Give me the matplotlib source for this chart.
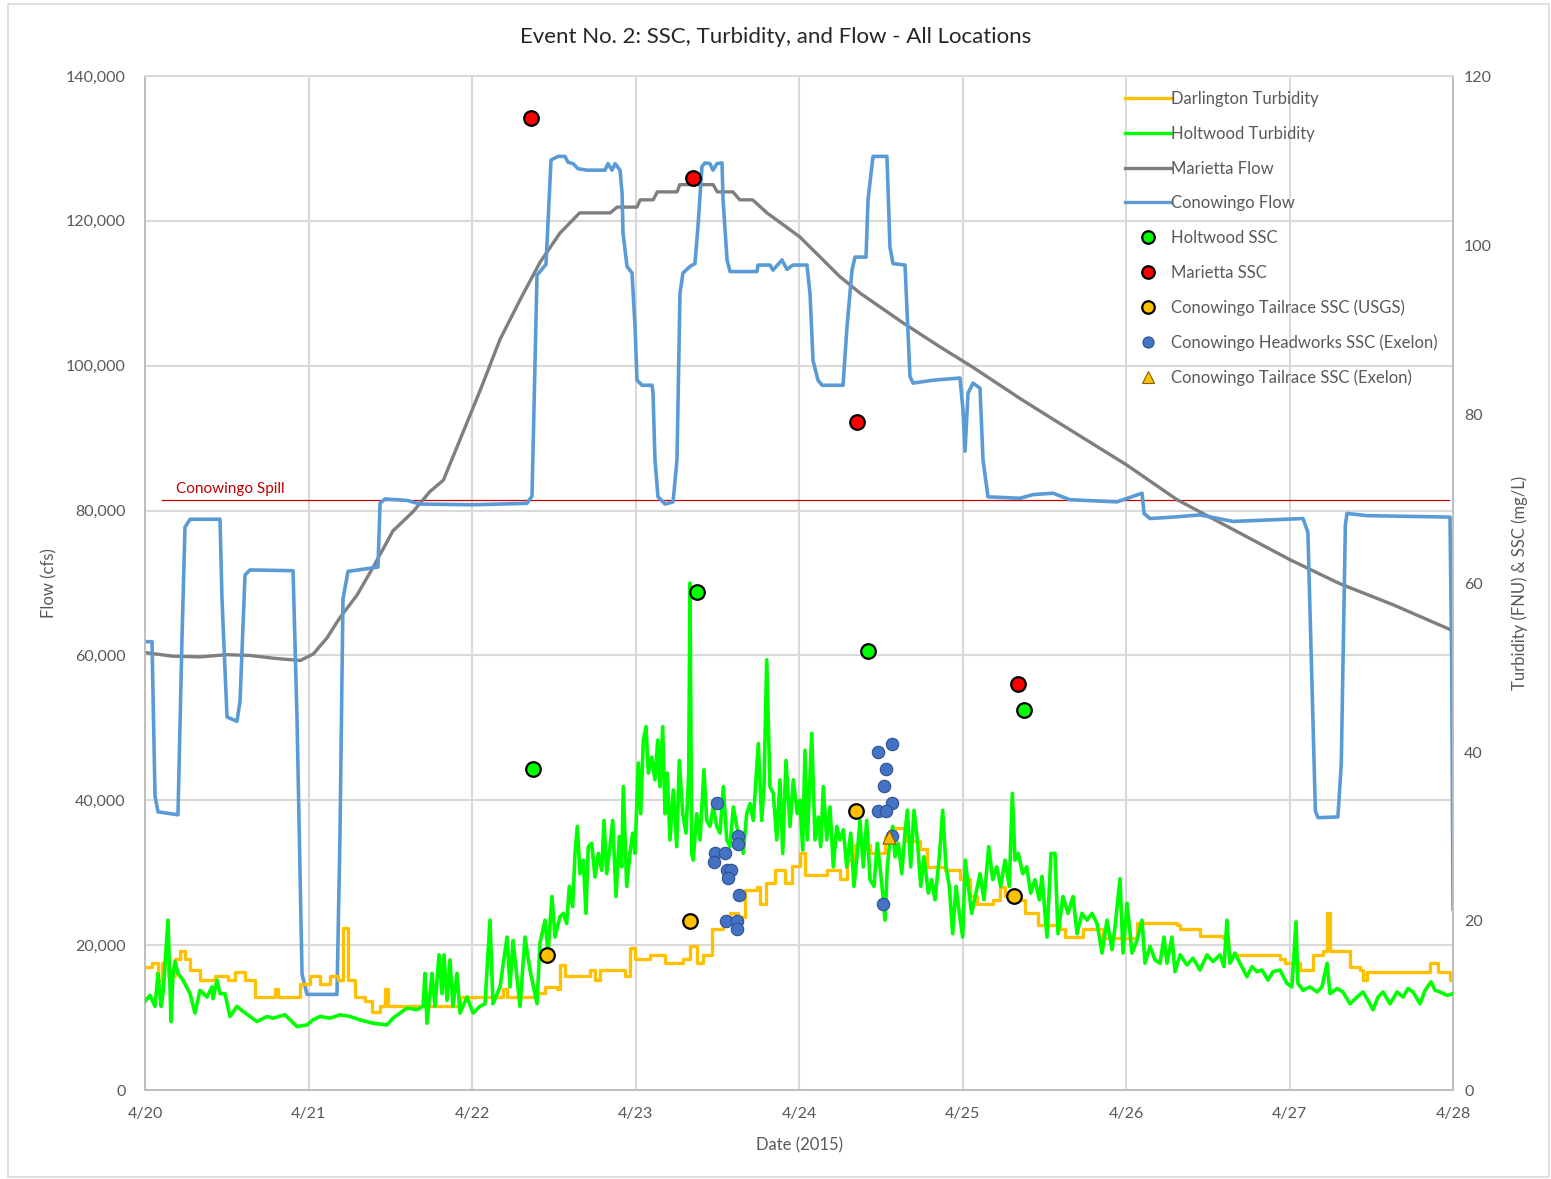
import numpy as np
import pandas as pd
import matplotlib
matplotlib.use("Agg")
import matplotlib.pyplot as plt
import matplotlib.dates as mdates
from matplotlib.ticker import FuncFormatter, MultipleLocator
from matplotlib.lines import Line2D
from matplotlib.patches import Rectangle

plt.rcParams['font.family'] = ['Lato', 'DejaVu Sans']

# time axis: hours after 4/20/2015 00:00
start = pd.Timestamp('2015-04-20')

# Conowingo flow (cfs)
cono_h = [0.00, 1.03, 1.47, 1.91, 4.84, 5.43, 5.87, 6.61, 11.01, 11.30, 12.04, 13.50, 13.95, 14.68, 15.41,
          21.73, 22.31, 23.05, 23.78, 28.18, 28.62, 29.06, 29.80, 34.20, 34.50, 35.23, 38.46, 40.37, 48.15,
          56.07, 56.81, 57.54, 58.86, 59.60, 60.62, 61.65, 62.09, 62.83, 63.56, 64.88, 67.52, 67.96,
          68.55, 69.00, 69.73, 70.03, 70.17, 70.76, 71.49, 71.93, 72.22, 72.96, 74.43, 74.57, 74.86, 75.30,
          76.33, 77.51, 78.09, 78.53, 78.97, 80.00, 80.73, 81.17, 81.76, 82.20, 82.93, 83.37, 83.96, 84.70,
          84.85, 85.44, 85.87, 89.84, 89.98, 91.74, 92.18, 93.50, 94.24, 95.12, 97.17, 97.62, 98.06, 98.79,
          99.38, 102.46, 103.05, 103.78, 104.22, 105.84, 106.13, 106.86, 108.91, 109.35, 109.80, 111.56,
          112.29, 112.74, 115.67, 119.63, 120.07, 120.37, 120.81, 121.54, 122.57, 123.01, 123.74, 128.44,
          130.35, 133.29, 135.78, 142.68, 146.35, 146.65, 147.52, 150.90, 154.86, 159.71, 169.98, 170.70,
          171.80, 172.20, 175.10, 175.60, 176.20, 176.44, 179.38, 191.56, 191.80, 192.00]
cono_flow = [61900, 61900, 40600, 38400, 38000, 62400, 77700, 78800, 78800, 67800, 51500, 50900, 53700, 71100, 71800,
             71700, 51500, 16000, 13200, 13200, 35000, 67800, 71600, 72200, 81000, 81600, 81400, 80900, 80800,
             81000, 82000, 112500, 114000, 128400, 128900, 128900, 128100, 127900, 127200, 127000, 127000, 127900,
             127000, 127900, 127000, 123800, 118300, 113700, 112800, 105400, 98000, 97300, 97300, 96200, 87000, 81900,
             80900, 81200, 87000, 110000, 112800, 113700, 114100, 119200, 127500, 128000, 127900, 127000, 127900, 128000,
             122900, 114600, 113000, 113000, 113900, 113900, 113200, 114600, 113300, 113900, 113900, 109900, 100700, 98000,
             97300, 97300, 105400, 113200, 115000, 115000, 122900, 128900, 128900, 116400, 114100, 113900,
             98500, 97600, 98000, 98300, 93900, 88200, 96200, 97600, 96900, 87000, 81900, 81700,
             82200, 82400, 81500, 81200, 82400, 79600, 78900, 79100, 79400, 78500, 78900, 77000,
             38500, 37600, 37700, 45000, 78000, 79600, 79300, 79100, 60000, 25000]

# Marietta flow (cfs)
mar_h = [0.0, 4.0, 8.1, 12.0, 15.4, 19.0, 22.8, 24.7, 26.7, 28.6, 31.1, 33.5, 36.4, 39.3, 41.8, 43.8, 46.2,
         49.2, 52.1, 55.0, 58.0, 60.9, 63.8, 68.3, 69.3, 72.2, 72.7, 74.6, 75.2, 78.1, 78.5, 83.4, 84.0, 86.3,
         87.3, 89.2, 91.3, 96.1, 102.0, 105.0, 111.3, 116.7, 121.5, 128.4, 132.8, 144.1, 151.5, 168.1, 175.4,
         183.2, 192.0]
mar_flow = [60400, 59900, 59800, 60100, 60000, 59600, 59300, 60200, 62400, 65200, 68300, 72200, 77200, 79800, 82600, 84200, 89700,
            96600, 103600, 109000, 114300, 118300, 121100, 121100, 121900, 121900, 122900, 122900, 124000, 124000, 125000, 125000, 124000, 124000,
            122900, 122900, 121100, 117800, 112300, 110000, 105900, 102600, 99800, 95500, 92900, 86300, 81500, 73200, 69900,
            67000, 63400]

# Darlington turbidity (FNU)
darl_h = [0.0, 1.0, 1.9, 2.5, 3.4, 4.4, 5.1, 5.9, 6.6, 8.1, 10.3, 12.2, 13.2, 14.7, 16.1, 18.3, 19.1, 19.5, 22.0,
          22.8, 24.2, 25.7, 27.2, 28.3, 29.1, 29.8, 30.8, 32.3, 33.3, 34.5, 35.2, 35.7, 40.4, 45.5, 46.2, 52.1,
          52.5, 53.1, 57.5, 58.7, 60.5, 60.9, 61.7, 64.3, 65.3, 66.1, 66.8, 70.5, 71.2, 71.9, 74.1, 76.3, 79.0,
          80.0, 81.0, 81.9, 83.2, 84.8, 85.9, 87.0, 88.1, 89.8, 90.3, 91.2, 92.5, 93.9, 95.0, 96.1, 96.9, 100.1,
          102.0, 103.0, 104.2, 106.4, 108.6, 110.1, 111.6, 113.8, 114.8, 117.4, 119.6, 121.1, 122.1, 124.5, 125.5,
          126.2, 128.4, 129.2, 130.3, 131.1, 134.3, 135.0, 137.2, 137.7, 140.2, 140.6, 145.0, 145.6, 151.5, 151.9,
          154.4, 154.9, 158.3, 158.9, 166.6, 167.3, 169.1, 169.5, 171.0, 171.4, 172.9, 173.5, 173.9, 176.4, 176.9,
          178.4, 178.8, 179.4, 188.2, 188.6, 189.3, 189.8, 191.2, 191.5, 192.0]
darl_turb = [14.5, 15.0, 13.0, 15.0, 13.5, 15.5, 16.5, 15.5, 14.2, 13.0, 13.5, 13.0, 14.0, 13.0, 11.0, 11.0, 12.0, 11.0, 11.0,
             12.5, 13.5, 12.5, 13.5, 13.0, 19.2, 13.0, 11.0, 10.5, 9.2, 10.0, 12.0, 10.0, 10.0, 10.0, 11.0, 11.0,
             12.0, 11.0, 11.5, 12.2, 12.0, 14.8, 13.5, 13.5, 14.2, 13.0, 14.2, 13.5, 16.8, 15.5, 16.0, 15.0, 15.5,
             17.0, 15.0, 16.0, 19.0, 19.8, 21.0, 20.5, 23.7, 24.0, 22.0, 24.5, 26.0, 24.5, 26.5, 28.0, 25.5, 26.0,
             25.0, 27.2, 29.0, 28.0, 30.0, 31.0, 29.5, 28.5, 26.4, 26.0, 25.0, 23.0, 22.0, 22.5, 24.0,
             23.0, 22.5, 21.0, 21.0, 19.5, 19.0, 18.1, 18.1, 19.0, 19.0, 18.0, 18.0, 19.8, 19.5, 19.0,
             19.0, 18.2, 18.0, 16.0, 15.5, 15.0, 15.0, 14.2, 14.2, 16.0, 16.5, 21.0, 16.5, 16.5, 14.5,
             14.2, 13.0, 14.0, 14.0, 15.0, 15.0, 14.0, 14.0, 13.0, 13.5]

# Holtwood turbidity (FNU)
holt_h = [0.00, 0.73, 1.47, 1.91, 2.35, 2.64, 3.38, 3.82, 4.11, 4.40, 4.84, 5.58, 6.61, 7.34, 8.07, 9.10, 9.83, 9.98,
          10.57, 11.01, 11.74, 12.48, 13.50, 14.39, 15.41, 16.44, 17.91, 18.79, 20.55, 22.31, 23.78, 24.66, 25.69,
          27.16, 28.62, 30.09, 31.56, 33.47, 35.52, 36.40, 37.43, 38.46, 39.93, 40.81, 41.10, 41.39, 42.13, 42.57,
          43.16, 43.60, 43.89, 44.33, 44.77, 45.21, 45.80, 46.24, 47.27, 48.15, 49.17,
          49.91, 50.64, 51.08, 52.11, 53.14, 53.58, 54.02, 55.05, 55.78, 56.51, 57.54, 57.98, 58.72, 59.16, 59.74,
          60.18,
          60.92, 61.40, 61.90, 62.29, 62.78, 63.12, 63.46, 63.85, 64.34, 64.73, 65.07, 65.57, 66.06, 66.54, 67.04,
          67.38, 67.77, 68.26, 68.65, 69.14, 69.62, 69.97, 70.21, 70.71, 71.19, 71.59, 71.93, 72.41, 72.76, 73.15,
          73.54, 73.88, 74.38, 74.86, 75.26, 75.60, 75.99, 76.33, 76.67, 77.06, 77.55, 78.05, 78.43, 78.93, 79.41,
          79.81, 80.00, 80.25, 80.48, 80.98, 81.47, 82.05, 82.45, 82.93, 83.42, 83.92, 84.40, 84.89, 85.39, 85.87,
          86.36, 86.86, 87.34, 87.82, 88.32, 88.81, 89.29, 90.03, 90.52, 90.86, 91.26, 91.74, 92.23, 92.73, 93.21,
          93.61, 94.09, 94.68, 95.16, 95.75,
          96.15, 96.54, 96.88, 97.22, 97.87, 98.35, 98.84, 99.19, 99.57, 100.07, 100.55, 101.04, 101.54, 102.02,
          102.51, 103.00, 103.59, 104.07, 104.56, 104.95, 105.44, 105.93, 106.42, 107.01, 107.49, 107.89, 108.28,
          108.62, 108.96, 109.36, 109.75, 110.09, 110.58, 111.08, 111.56, 111.90, 112.40, 112.88, 113.37, 113.87,
          114.35, 114.98, 115.48, 115.96, 116.60, 117.09, 117.58, 118.06, 118.56, 119.05, 119.53, 120.03, 120.41,
          120.85, 121.35, 121.98, 122.57, 123.16, 123.85, 124.44, 125.02, 125.61, 126.24, 126.87, 127.31, 127.71,
          128.19, 128.84, 129.42, 130.01, 130.64, 131.27,
          131.67, 132.40, 132.99, 133.58, 134.02,
          134.75, 135.49, 136.22, 136.81, 137.54, 138.28, 139.01, 139.75, 140.48, 141.21, 141.95, 142.39,
          143.12, 143.56, 144.15, 144.88, 145.61, 146.35, 146.79, 147.52, 148.26, 148.99, 149.58, 150.02, 150.75,
          151.19, 151.93, 152.95, 153.83, 154.86, 155.89, 156.77, 157.80, 158.38, 158.82, 159.26, 160.00, 160.73,
          161.76, 162.49, 163.22, 163.96, 164.84, 165.57, 166.60, 167.63, 168.36, 168.95, 169.24, 169.98, 171.00,
          172.04, 172.77, 173.51, 173.95, 174.97, 175.85, 176.88, 177.91, 178.79, 179.52, 180.26, 180.99, 181.73,
          182.76, 183.78, 184.66, 185.40, 186.13, 187.16, 187.90, 188.78, 189.37, 190.10, 191.13, 192.00]
holt_turb = [10.5, 11.2, 9.9, 13.8, 9.9, 11.4, 20.1, 8.1, 13.8, 15.2, 13.8, 13.0, 11.4, 9.1, 11.8, 11.0, 12.2, 10.8,
             13.0, 11.4, 11.4, 8.7, 9.9, 9.3, 8.7, 8.1, 8.7, 8.5, 8.9, 7.5, 7.7, 8.3, 8.7,
             8.5, 8.9, 8.7, 8.3, 7.9, 7.7, 8.5, 9.1, 9.7, 9.5, 9.9, 13.8, 7.9, 13.8, 9.9,
             16.0, 11.4, 16.0, 10.6, 15.4, 9.9, 13.8, 9.1, 11.0, 9.1, 9.9,
             10.2, 20.1, 10.2, 12.2, 18.1, 12.2, 17.7, 9.9, 18.1, 14.2, 10.2, 17.4, 20.1, 16.2, 22.9,
             18.1,
             20.5, 20.9, 19.7, 24.1, 21.7, 28.0, 31.2, 25.6, 27.2, 20.9, 28.8, 29.2, 25.2, 28.0, 26.0,
             31.9, 25.6, 28.8, 31.9, 22.9, 30.0, 26.4, 35.9, 24.1, 28.0, 30.4, 28.0, 38.7, 32.7, 41.4,
             43.0, 37.5, 39.4, 36.7, 41.4, 35.9, 43.0, 32.7, 37.5, 29.6, 35.5, 28.8, 39.0, 32.7, 30.4,
             37.5, 60.0, 28.0, 27.2, 32.7, 29.6, 37.9, 31.9, 31.2, 33.5, 31.2, 30.4, 35.9, 29.6, 28.8,
             33.5, 31.2, 29.6, 28.0, 32.7, 33.9, 31.9, 41.0, 31.9, 35.9, 50.9, 35.9, 35.1, 29.6, 36.7,
             28.0, 39.0, 31.2, 36.7, 32.7,
             34.3, 28.4, 40.2, 29.6, 42.2, 29.6, 32.3, 28.8, 35.9, 29.6, 33.5, 26.4, 31.2, 29.6,
             30.8, 26.4, 30.4, 24.1, 28.0, 31.9, 26.4, 31.9, 24.9, 24.1, 29.2, 26.4, 23.3,
             20.1, 26.4, 29.6, 31.2, 27.6, 29.2, 25.6, 30.4, 33.1, 26.4, 33.1, 29.6, 24.1,
             27.6, 23.3, 24.9, 22.5, 27.6, 33.1, 26.4, 24.1, 18.5, 24.1, 20.9, 18.1, 27.2,
             24.1, 20.9, 23.3, 25.6, 22.5, 28.8, 24.9, 26.4, 24.1, 27.2, 24.1, 35.1, 27.2,
             28.0, 25.6, 26.4, 23.3, 24.9, 22.5,
             25.3, 18.1, 28.0, 28.0, 18.5,
             22.9, 20.9, 22.9, 18.5, 20.9, 20.1, 20.9, 19.7, 16.2, 20.1, 16.6, 19.3,
             25.0, 16.2, 22.1, 16.2, 17.7, 20.1, 15.0, 17.0, 15.4, 15.0, 18.1, 15.0, 18.1,
             14.0, 16.0, 14.8, 15.6, 14.2, 16.0, 15.2, 16.0, 14.6, 20.1, 15.0, 16.2, 15.0,
             13.4, 14.6, 14.0, 14.2, 13.0, 14.0, 14.2, 12.6, 12.2, 19.9, 12.6, 11.8, 12.2,
             11.6, 12.2, 15.0, 11.4, 12.0, 11.6, 10.2, 11.0, 11.6, 10.6, 9.5, 11.0, 11.6,
             10.2, 11.6, 11.0, 12.0, 11.6, 10.2, 11.8, 12.8, 11.8, 11.6, 11.2, 11.4]

# SSC samples (mg/L)
holt_ssc_h = [57.0, 80.98, 106.08, 129.07]
holt_ssc = [38.0, 58.9, 52.0, 45.0]
mar_ssc_h = [56.66, 80.48, 104.56, 128.10]
mar_ssc = [115.0, 107.9, 79.0, 48.0]
tail_usgs_h = [58.97, 80.0, 104.32, 127.6]
tail_usgs = [16.0, 20.0, 33.0, 23.0]
head_h = [83.96, 87.00, 87.00, 83.67, 85.14, 83.48, 85.39, 86.02, 85.53, 87.24, 85.29, 86.86, 86.86,
          109.70, 107.55, 108.77, 108.52, 109.65, 107.64, 108.73, 108.38, 109.61]
head_ssc = [34.0, 30.1, 29.1, 28.0, 28.0, 27.0, 26.0, 26.0, 25.1, 23.1, 20.0, 20.0, 19.0,
            40.9, 40.0, 38.0, 36.0, 34.0, 33.0, 33.0, 22.0, 30.1]
tail_exelon_h = [109.26]
tail_exelon = [30.0]

spill_flow = 81400
spill_h = [2.5, 191.4]


def to_time(hours):
    return start + pd.to_timedelta(np.asarray(hours, dtype=float), unit='h')


text_col = '#595959'
grid_col = '#D9D9D9'

fig = plt.figure(figsize=(15.51, 11.79), dpi=100)
ax = fig.add_axes([145 / 1551, 1 - 1090 / 1179, 1308 / 1551, 1014 / 1179])
ax2 = ax.twinx()

# flows on the left axis
ax.plot(to_time(mar_h), mar_flow, color='#7F7F7F', lw=2.4, zorder=3)
ax.plot(to_time(cono_h), cono_flow, color='#5B9BD5', lw=2.6, zorder=4)
ax.plot(to_time(spill_h), [spill_flow, spill_flow], color='#C00000', lw=0.9, zorder=2)
ax.annotate('Conowingo Spill', xy=(to_time([4.6])[0], spill_flow), xytext=(0, 3),
            textcoords='offset points', va='bottom', ha='left', color='#C00000', fontsize=11)

# turbidity + SSC on the right axis
ax2.plot(to_time(darl_h), darl_turb, color='#FFC000', lw=2.4, drawstyle='steps-post', zorder=2)
ax2.plot(to_time(holt_h), holt_turb, color='#00FF00', lw=2.6, zorder=3)
ax2.scatter(to_time(holt_ssc_h), holt_ssc, s=110, c='#00FF00', edgecolors='black', linewidths=1.6, zorder=5)
ax2.scatter(to_time(mar_ssc_h), mar_ssc, s=110, c='#FF0000', edgecolors='black', linewidths=1.6, zorder=5)
ax2.scatter(to_time(tail_usgs_h), tail_usgs, s=110, c='#FFC000', edgecolors='black', linewidths=1.6, zorder=5)
ax2.scatter(to_time(head_h), head_ssc, s=80, c='#4472C4', edgecolors='#2F528F', linewidths=0.8, zorder=5)
ax2.scatter(to_time(tail_exelon_h), tail_exelon, s=90, marker='^', c='#FFC000', edgecolors='#7F6000',
            linewidths=0.8, zorder=6)

ax.set_xlim(start, start + pd.Timedelta(days=8))
ax.set_ylim(0, 140000)
ax2.set_ylim(0, 120)
ax.xaxis.set_major_locator(mdates.DayLocator())
ax.xaxis.set_major_formatter(FuncFormatter(lambda v, p: f"{mdates.num2date(v).month}/{mdates.num2date(v).day}"))
ax.yaxis.set_major_locator(MultipleLocator(20000))
ax.yaxis.set_major_formatter(FuncFormatter(lambda v, p: f"{int(v):,}"))
ax2.yaxis.set_major_locator(MultipleLocator(20))

ax.grid(True, color=grid_col, lw=1.5, zorder=0)
ax.set_axisbelow(True)
for a in (ax, ax2):
    a.tick_params(length=0, labelsize=11.5, labelcolor=text_col)
    for s in a.spines.values():
        s.set_color('#BFBFBF')
        s.set_linewidth(1.3)
    a.spines['top'].set_color(grid_col)
ax.tick_params(axis='y', pad=14)
ax.tick_params(axis='x', pad=12)
ax2.tick_params(axis='y', pad=8)

ax.set_ylabel('Flow (cfs)', fontsize=12, color=text_col, labelpad=6)
ax2.set_ylabel('Turbidity (FNU) & SSC (mg/L)', fontsize=12, color=text_col, labelpad=14)
ax.set_xlabel('Date (2015)', fontsize=12, color=text_col, labelpad=12)
fig.text(0.5, 1 - 37 / 1179, 'Event No. 2: SSC, Turbidity, and Flow - All Locations',
         ha='center', va='center', fontsize=16, color='#262626')

handles = [
    Line2D([], [], color='#FFC000', lw=2.4),
    Line2D([], [], color='#00FF00', lw=2.4),
    Line2D([], [], color='#7F7F7F', lw=2.4),
    Line2D([], [], color='#5B9BD5', lw=2.4),
    Line2D([], [], ls='none', marker='o', ms=9, mfc='#00FF00', mec='black', mew=1.6),
    Line2D([], [], ls='none', marker='o', ms=9, mfc='#FF0000', mec='black', mew=1.6),
    Line2D([], [], ls='none', marker='o', ms=9, mfc='#FFC000', mec='black', mew=1.6),
    Line2D([], [], ls='none', marker='o', ms=8, mfc='#4472C4', mec='#2F528F', mew=0.8),
    Line2D([], [], ls='none', marker='^', ms=8, mfc='#FFC000', mec='#7F6000', mew=0.8),
]
labels = ['Darlington Turbidity', 'Holtwood Turbidity', 'Marietta Flow', 'Conowingo Flow', 'Holtwood SSC',
          'Marietta SSC', 'Conowingo Tailrace SSC (USGS)', 'Conowingo Headworks SSC (Exelon)',
          'Conowingo Tailrace SSC (Exelon)']
leg = ax2.legend(handles, labels, loc='upper left', bbox_to_anchor=(0.749, 0.985), frameon=False,
                 fontsize=12, labelspacing=1.12, handlelength=2.8, handletextpad=0.0,
                 borderpad=0, borderaxespad=0)
for t in leg.get_texts():
    t.set_color(text_col)

fig.patches.append(Rectangle((8 / 1551, 2 / 1179), 1541 / 1551, 1173 / 1179, transform=fig.transFigure,
                             fill=False, edgecolor='#D9D9D9', lw=1.2))

fig.savefig('out.png', dpi=100)
